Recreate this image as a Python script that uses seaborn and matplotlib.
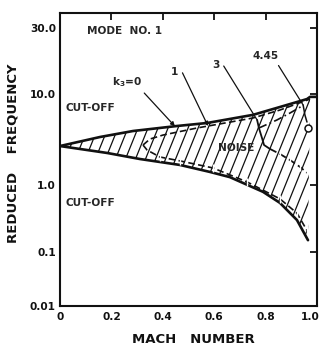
import numpy as np
import matplotlib
matplotlib.use("Agg")
import matplotlib.pyplot as plt
import matplotlib.transforms as mtransforms
import seaborn as sns
from matplotlib.collections import LineCollection

# ---- data: Mach number vs reduced frequency boundaries for mode no. 1 ----
mach_k0_upper = [0.0, 0.156, 0.284, 0.455, 0.572, 0.751, 0.856, 0.961, 0.973, 1.0]
freq_k0_upper = [2.68, 3.37, 3.92, 4.45, 4.8, 5.9, 7.2, 8.8, 9.3, 9.3]
mach_k0_lower = [0.0, 0.183, 0.311, 0.467, 0.584, 0.661, 0.79, 0.856, 0.922, 0.965]
freq_k0_lower = [2.68, 2.25, 1.93, 1.66, 1.39, 1.22, 0.79, 0.54, 0.30, 0.15]

mach_k1_upper = [0.323, 0.350, 0.401, 0.533, 0.751, 0.856, 0.973]
freq_k1_upper = [2.75, 3.2, 3.54, 4.23, 5.45, 6.67, 8.8]
mach_k1_lower = [0.323, 0.339, 0.389, 0.467, 0.595, 0.728, 0.856, 0.922, 0.961]
freq_k1_lower = [2.75, 2.42, 2.03, 1.84, 1.54, 1.08, 0.62, 0.38, 0.21]

mach_k3_upper = [0.774, 0.844, 0.895, 0.942]
freq_k3_upper = [4.23, 5.18, 6.18, 7.38]
mach_k3_lower = [0.767, 0.774, 0.786, 0.794, 0.817, 0.856, 0.895, 0.934, 0.961]
freq_k3_lower = [5.18, 4.23, 3.28, 2.75, 2.49, 2.19, 1.88, 1.58, 1.36]

mach_k445 = [0.946, 0.953, 0.961]
freq_k445 = [7.57, 5.88, 4.92]
mach_k445_point = [0.965]
freq_k445_point = [4.23]

x_ticks = [0.0, 0.2, 0.4, 0.6, 0.8, 1.0]
x_tick_labels = ["0", "0.2", "0.4", "0.6", "0.8", "1.0"]
y_ticks = [0.01, 0.1, 1.0, 10.0, 30.0]
y_tick_labels = ["0.01", "0.1", "1.0", "10.0", "30.0"]

# ---- frequency axis: hand-ruled logarithmic scale with uneven decades ----
_scale_log = [-3.0, -2.0, -1.0, 0.0, 1.0, np.log10(30.0), 2.0]
_scale_pos = [-54.0, 0.0, 54.0, 121.0, 212.0, 278.0, 350.0]


def _fwd(v):
    lv = np.log10(np.clip(np.asarray(v, dtype=float), 1e-6, None))
    return np.interp(lv, _scale_log, _scale_pos)


def _inv(p):
    return 10.0 ** np.interp(np.asarray(p, dtype=float), _scale_pos, _scale_log)


sns.set_theme(style="white")
plt.rcParams["font.family"] = ["DejaVu Sans"]
plt.rcParams["font.weight"] = "bold"

fig = plt.figure(figsize=(3.2, 3.48), dpi=100)
ax = fig.add_axes([60 / 320, 42 / 348, 257 / 320, 293 / 348])
ax.set_yscale("function", functions=(_fwd, _inv))
ax.set_xlim(0, 1.0)
ax.set_ylim(0.01, _inv(293.0))

ink = "#111111"

# outer (k3 = 0) boundaries
sns.lineplot(x=mach_k0_upper, y=freq_k0_upper, sort=False, estimator=None,
             ax=ax, color=ink, lw=1.9)
sns.lineplot(x=mach_k0_lower, y=freq_k0_lower, sort=False, estimator=None,
             ax=ax, color=ink, lw=1.9)

# hatched noise region between the outer boundaries
region = ax.fill(mach_k0_upper[:-1] + mach_k0_lower[::-1],
                 freq_k0_upper[:-1] + freq_k0_lower[::-1],
                 facecolor="none", edgecolor="none")[0]
offsets = np.arange(-0.6, 1.05, 0.039)
segs = [[(u, 0.0), (u + 0.46, 1.0)] for u in offsets]
hatch = LineCollection(segs, colors=ink, linewidths=0.9, transform=ax.transAxes)
hatch.set_clip_path(region)
ax.add_collection(hatch)

# k3 = 1
sns.lineplot(x=mach_k1_upper, y=freq_k1_upper, sort=False, estimator=None,
             ax=ax, color=ink, lw=1.2, linestyle=(0, (4, 2)))
sns.lineplot(x=mach_k1_lower, y=freq_k1_lower, sort=False, estimator=None,
             ax=ax, color=ink, lw=1.2, linestyle=(0, (4, 2)),
             marker="|", markersize=6, markeredgewidth=1.0,
             markevery=slice(2, None))

# k3 = 3
sns.lineplot(x=mach_k3_upper, y=freq_k3_upper, sort=False, estimator=None,
             ax=ax, color=ink, lw=1.2, linestyle=(0, (5, 2, 1, 2)))
sns.lineplot(x=mach_k3_lower[:5], y=freq_k3_lower[:5], sort=False,
             estimator=None, ax=ax, color=ink, lw=1.3)
sns.lineplot(x=mach_k3_lower[4:], y=freq_k3_lower[4:], sort=False,
             estimator=None, ax=ax, color=ink, lw=1.3, linestyle=(0, (4, 2)),
             marker="|", markersize=6, markeredgewidth=1.0,
             markevery=slice(1, None))

# k3 = 4.45
sns.lineplot(x=mach_k445, y=freq_k445, sort=False, estimator=None,
             ax=ax, color=ink, lw=1.1)
ax.plot(mach_k445_point, freq_k445_point, marker="o", ms=5, mfc="white",
        mec=ink, mew=1.1, ls="none", zorder=5)

# ---- labels with leader lines ----
fs = 7.6
lead = dict(arrowstyle="-", color=ink, lw=0.9, shrinkA=1, shrinkB=0,
            connectionstyle="arc,angleA=0,armA=7,angleB=0,armB=0,rad=0")
lead_arrow = dict(lead, arrowstyle="-|>", mutation_scale=6)


def on_curve(mx, my, m):
    return m, 10 ** np.interp(m, mx, np.log10(my))


ax.annotate("k$_3$=0", xy=on_curve(mach_k0_upper, freq_k0_upper, 0.447),
            xytext=(0.202, 0.765), textcoords="axes fraction",
            ha="left", va="center", fontsize=fs, arrowprops=lead_arrow)
ax.annotate("1", xy=on_curve(mach_k1_upper, freq_k1_upper, 0.576),
            xytext=(0.447, 0.80), textcoords="axes fraction",
            ha="center", va="center", fontsize=fs, arrowprops=lead_arrow)
ax.annotate("3", xy=(mach_k3_lower[0], freq_k3_lower[0]),
            xytext=(0.607, 0.823), textcoords="axes fraction",
            ha="center", va="center", fontsize=fs, arrowprops=lead)
ax.annotate("4.45", xy=(mach_k445[0], freq_k445[0]),
            xytext=(0.80, 0.853), textcoords="axes fraction",
            ha="center", va="center", fontsize=fs, arrowprops=lead)

ax.text(0.105, 0.939, "MODE  NO. 1", transform=ax.transAxes,
        ha="left", va="center", fontsize=fs)
ax.text(0.02, 0.676, "CUT-OFF", transform=ax.transAxes,
        ha="left", va="center", fontsize=fs)
ax.text(0.02, 0.352, "CUT-OFF", transform=ax.transAxes,
        ha="left", va="center", fontsize=fs)
ax.text(0.685, 0.539, "NOISE", transform=ax.transAxes,
        ha="center", va="center", fontsize=fs)

# ---- axes, ticks, spines ----
ax.set_xticks(x_ticks)
ax.set_xticklabels(x_tick_labels)
ax.set_yticks(y_ticks)
ax.set_yticklabels(y_tick_labels)
ax.minorticks_off()
ax.tick_params(axis="both", which="both", direction="in", length=5, width=1.3,
               colors=ink, labelsize=fs, top=True, right=True)
ax.tick_params(axis="y", pad=3)
ax.tick_params(axis="x", pad=4)
for s in ax.spines.values():
    s.set_color(ink)
    s.set_linewidth(1.5)
    s.set_visible(True)

# keep the last Mach label inside the figure edge
last = ax.get_xticklabels()[-1]
last.set_horizontalalignment("right")
last.set_transform(last.get_transform() +
                   mtransforms.ScaledTranslation(2 / 72, 0, fig.dpi_scale_trans))

ax.set_xlabel("MACH   NUMBER", fontsize=9.5, fontweight="bold", color=ink)
ax.xaxis.set_label_coords(0.52, -0.093)
ax.set_ylabel("REDUCED    FREQUENCY", fontsize=9.5, fontweight="bold", color=ink)
ax.yaxis.set_label_coords(-0.158, 0.52)
ax.grid(False)

fig.savefig("out.png", dpi=100, facecolor="white")
